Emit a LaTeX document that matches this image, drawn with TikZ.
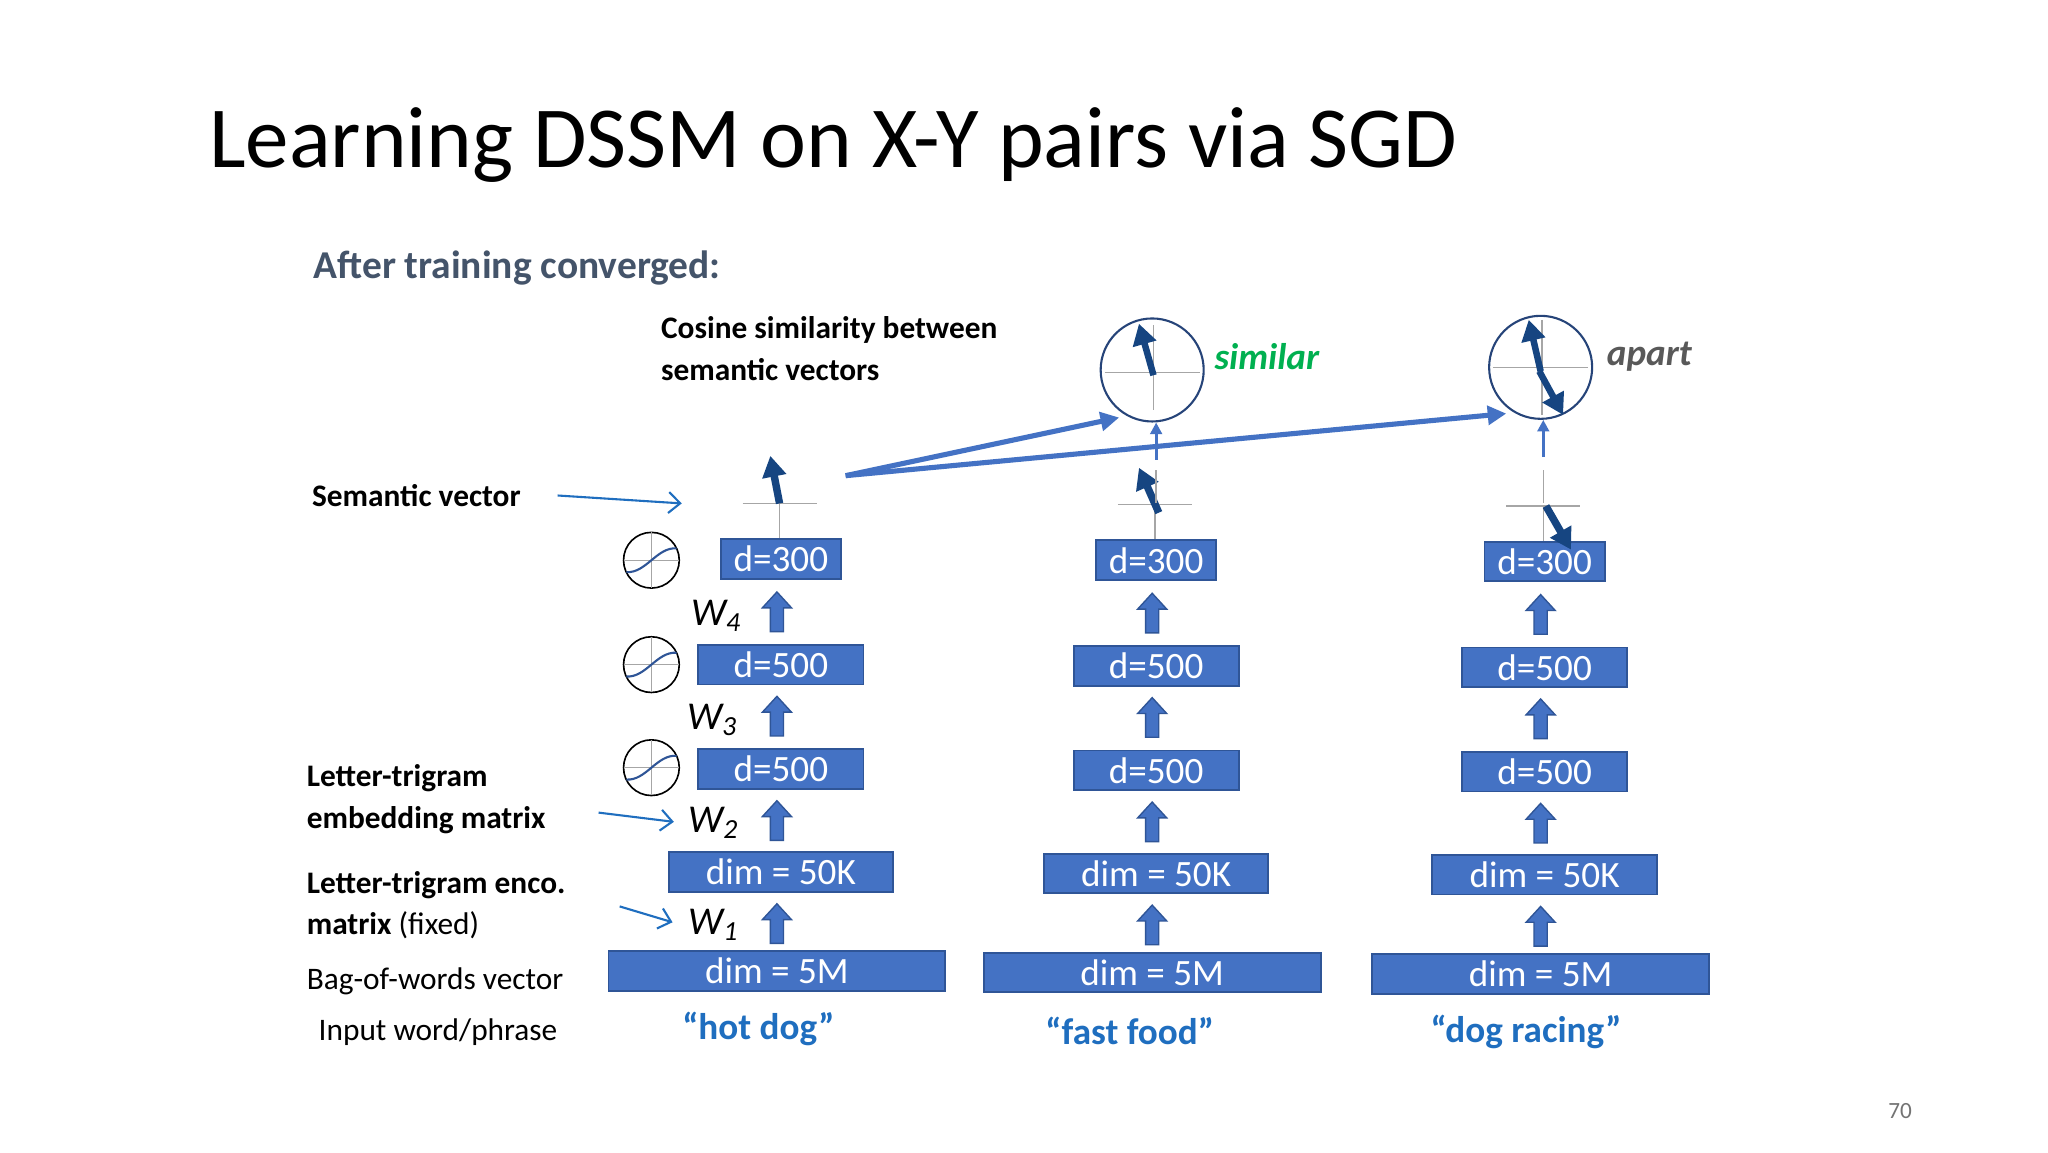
\documentclass[tikz,border=0pt]{standalone}
\usepackage{fontspec}
\setmainfont{Carlito}
\usetikzlibrary{arrows.meta}
\definecolor{boxblue}{HTML}{4472C4}
\definecolor{boxedge}{HTML}{2F5597}
\definecolor{vecblue}{HTML}{1F62B8}
\definecolor{quoteblue}{HTML}{1F6EBF}
\definecolor{titlegray}{HTML}{44546A}
\definecolor{simgreen}{HTML}{00B050}
\definecolor{axisgray}{HTML}{A6A6A6}
\tikzset{
  layer/.style={draw=boxedge,line width=0.8pt,fill=boxblue,text=white,inner sep=0pt,font=\fontsize{16}{18}\selectfont},
  blockarr/.style={fill=boxblue,draw=boxedge,line width=0.6pt},
  vec/.style={draw=vecblue!70!black,line width=3.2pt,-{Triangle[length=9pt,width=10pt]}},
  thinarr/.style={draw=boxblue,line width=1.4pt,-{Triangle[length=5pt,width=5pt]}},
  bigarr/.style={draw=boxblue,line width=2.2pt,-{Triangle[length=8pt,width=8pt]}},
  callout/.style={draw=quoteblue,line width=0.9pt,-{Straight Barb[length=5pt,width=9pt]}},
  lab/.style={font=\fontsize{13.5}{16}\selectfont\bfseries,anchor=west},
  wlab/.style={font=\fontsize{17}{19}\selectfont\itshape},
  quote/.style={font=\fontsize{16}{18}\selectfont\bfseries,text=quoteblue},
  axis/.style={draw=axisgray,line width=0.6pt},
  sig/.style={draw=black,line width=0.7pt,circle,minimum size=24pt,inner sep=0pt}
}
\newcommand\blockup[2]{% x, y top of arrow (bottom = y+30)
  \draw[blockarr] (#1-5,#2+30) -- (#1-5,#2+12) -- (#1-11,#2+12) -- (#1,#2) -- (#1+11,#2+12) -- (#1+5,#2+12) -- (#1+5,#2+30) -- cycle;}
\newcommand\sigmoidicon[3]{% name, x, y
  \node[sig] (#1) at (#2,#3) {};
  \draw[axis] (#2-21,#3) -- (#2+21,#3) (#2,#3-21) -- (#2,#3+21);
  \draw[boxedge,line width=0.9pt] (#2-19,#3+9) .. controls (#2-4,#3+10) and (#2+4,#3-10) .. (#2+19,#3-9);}
\newcommand\dssmcol[4]{% prefix, cx, dy, 5M offset
  \node[layer,minimum width=91*0.569pt,minimum height=30*0.569pt] (#1a) at (#2,423+#3) {d=300};
  \node[layer,minimum width=125*0.569pt,minimum height=30*0.569pt] (#1b) at (#2,503+#3) {d=500};
  \node[layer,minimum width=125*0.569pt,minimum height=30*0.569pt] (#1c) at (#2,582+#3) {d=500};
  \node[layer,minimum width=170*0.569pt,minimum height=30*0.569pt] (#1d) at (#2,660+#3) {dim = 50K};
  \node[layer,minimum width=255*0.569pt,minimum height=30*0.569pt] (#1e) at (#2+#4,735+#3) {dim = 5M};
  \blockup{#2-3}{448+#3}
  \blockup{#2-3}{527+#3}
  \blockup{#2-3}{606+#3}
  \blockup{#2-3}{684+#3}
  \coordinate (#1x) at (#2-1,381+#3);
  \draw[axis] (#2-29,381+#3) -- (#2+27,381+#3);
  \draw[axis] (#1x) -- (#1a.north -| #1x);
}
\begin{document}
\begin{tikzpicture}[x=0.02cm,y=-0.02cm]
\useasboundingbox[fill=white] (0,0) rectangle (1550,872);
\node[anchor=base west,font=\fontsize{37.5}{40}\selectfont,inner sep=0pt] (title) at (158,127) {Learning DSSM on X-Y pairs via SGD};
\node[anchor=west,font=\fontsize{17}{20}\selectfont\bfseries,text=titlegray,inner sep=0pt] (after) at (237,203) {After training converged:};
\node[lab,align=left,inner sep=0pt,font=\fontsize{13.5}{18}\selectfont\bfseries] (cos) at (500,264) {Cosine similarity between\\semantic vectors};

\dssmcol{p}{591}{0}{-3}
\dssmcol{q}{875}{1}{-3}
\dssmcol{r}{1169}{2}{-3}

% sigmoids
\sigmoidicon{s1}{493}{424}
\sigmoidicon{s2}{493}{503}
\sigmoidicon{s3}{493}{581}

% W labels
\node[wlab] (w4) at (542,466) {W\textsubscript{4}};
\node[wlab] (w3) at (539,545) {W\textsubscript{3}};
\node[wlab] (w2) at (540,623) {W\textsubscript{2}};
\node[wlab] (w1) at (540,700) {W\textsubscript{1}};

% semantic vectors
\coordinate (pv) at (583,345);
\draw[vec] (px) -- (pv);
\coordinate (qv) at (862,354);
\draw[vec] (877,388) -- (qv);
\coordinate (rv) at (1189,416);
\draw[vec] (1170,383) -- (rv);

% cosine circles
\node[draw=boxedge!80!black,line width=0.9pt,circle,minimum size=78*0.569pt,inner sep=0pt] (c1) at (872,280) {};
\node[draw=boxedge!80!black,line width=0.9pt,circle,minimum size=78*0.569pt,inner sep=0pt] (c2) at (1166,278) {};
\draw[axis] (836,282) -- (908,282) (873,246) -- (873,310);
\draw[axis] (1130,278) -- (1202,278) (1167,242) -- (1167,314);
\draw[vec,line width=2.8pt] (873,284) -- (862,245);
\draw[vec,line width=2.8pt] (1166,281) -- (1157,242);
\draw[vec,line width=2.8pt] (1165,281) -- (1183,314);

\node[font=\fontsize{16}{18}\selectfont\bfseries\itshape,text=simgreen,anchor=west] (sim) at (913,270) {similar};
\node[font=\fontsize{16}{18}\selectfont\bfseries\itshape,text=black!65,anchor=west] (ap) at (1210,270) {apart};

% thin arrows into circles
\coordinate (qt) at (875,348);
\coordinate (rt) at (1168,346);
\draw[thinarr] (qt) -- (c1.south -| qt);
\draw[thinarr] (rt) -- (c2.south -| rt);
\draw[axis] (1168,356) -- (1168,381);
\draw[axis] (875,356) -- (875,381);

% big arrows
\coordinate (src) at (640,360);
\draw[bigarr] (src) -- (847,316);
\draw[bigarr] (src) -- (1140,313);

% left labels
\node[lab] (sv) at (230,375) {Semantic vector};
\coordinate (sva) at (422,375);
\draw[callout] (sva) -- (516,381);
\node[lab,align=left,font=\fontsize{13.5}{18}\selectfont\bfseries] (emb) at (226,605) {Letter-trigram\\embedding matrix};
\coordinate (e1) at (453,615);
\draw[callout] (e1) -- (510,622);
\node[lab,align=left,font=\fontsize{13.5}{18}\selectfont] (enc) at (226,685) {\textbf{Letter-trigram enco.}\\\textbf{matrix} (fixed)};
\coordinate (e2) at (469,686);
\draw[callout] (e2) -- (509,698);
\node[lab,font=\fontsize{13.5}{16}\selectfont] (bow) at (226,743) {Bag-of-words vector};
\node[lab,font=\fontsize{13.5}{16}\selectfont] (inp) at (235,781) {Input word/phrase};

% quotes
\node[quote] (h1) at (574,779) {“hot dog”};
\node[quote] (h2) at (855,780) {“fast food”};
\node[quote] (h3) at (1155,781) {“dog racing”};

\node[font=\fontsize{10}{12}\selectfont,text=black!55] (pg) at (1438,841) {70};
\end{tikzpicture}
\end{document}
